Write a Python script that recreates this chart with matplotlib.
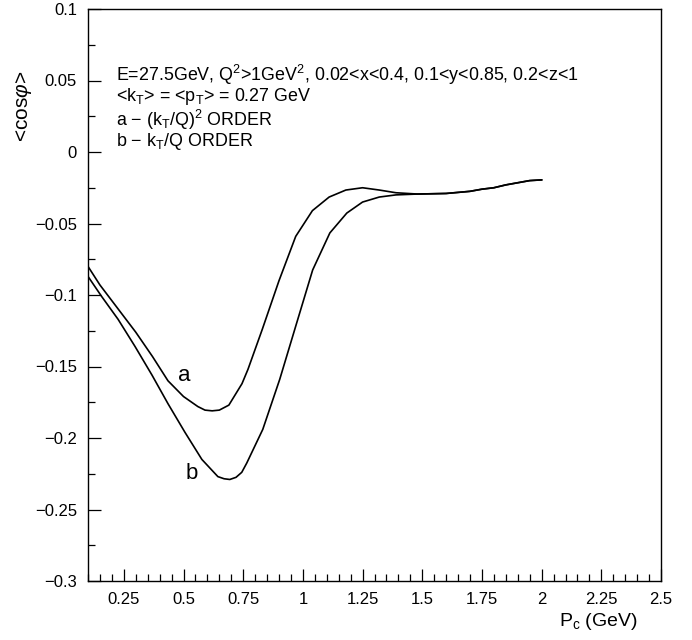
import matplotlib
matplotlib.use("Agg")
import matplotlib.pyplot as plt
from matplotlib.ticker import MultipleLocator, FixedLocator, FixedFormatter

plt.rcParams['font.family'] = ['Liberation Sans', 'DejaVu Sans']
plt.rcParams['mathtext.fontset'] = 'custom'
plt.rcParams['mathtext.rm'] = 'Liberation Sans'
plt.rcParams['mathtext.it'] = 'Liberation Sans:italic'

# curve a: (kT/Q)^2 order
pc_a = [0.1, 0.15, 0.2, 0.3, 0.37, 0.435, 0.5, 0.56, 0.59, 0.62, 0.65, 0.69, 0.745,
        0.77, 0.83, 0.9, 0.97, 1.04, 1.11, 1.18, 1.25, 1.32, 1.39, 1.48,
        1.6, 1.7, 1.75, 1.8, 1.85, 1.9, 1.95, 2.0]
cos_a = [-0.080, -0.093, -0.104, -0.126, -0.143, -0.160, -0.171, -0.178, -0.1805, -0.181,
         -0.1805, -0.177, -0.162, -0.152, -0.124, -0.090, -0.059, -0.041, -0.0315, -0.0266,
         -0.025, -0.0266, -0.0285, -0.0294, -0.029, -0.0275, -0.026, -0.025, -0.023,
         -0.0215, -0.020, -0.0195]

# curve b: kT/Q order
pc_b = [0.1, 0.157, 0.226, 0.297, 0.368, 0.435, 0.506, 0.577, 0.644, 0.67, 0.694, 0.72,
        0.744, 0.765, 0.832, 0.903, 0.974, 1.041, 1.113, 1.184, 1.25, 1.32, 1.39, 1.48,
        1.6, 1.7, 1.75, 1.8, 1.85, 1.9, 1.95, 2.0]
cos_b = [-0.087, -0.101, -0.117, -0.136, -0.156, -0.176, -0.196, -0.215, -0.227, -0.2285,
         -0.229, -0.2275, -0.224, -0.2175, -0.194, -0.159, -0.1196, -0.0825, -0.0566,
         -0.0427, -0.035, -0.0315, -0.030, -0.0294, -0.029, -0.0275, -0.026, -0.025,
         -0.023, -0.0215, -0.020, -0.0195]

xticks = [0.25, 0.5, 0.75, 1.0, 1.25, 1.5, 1.75, 2.0, 2.25, 2.5]
xtick_labels = ['0.25', '0.5', '0.75', '1', '1.25', '1.5', '1.75', '2', '2.25', '2.5']
yticks = [0.1, 0.05, 0.0, -0.05, -0.1, -0.15, -0.2, -0.25, -0.3]
ytick_labels = ['0.1', '0.05', '0', '\u22120.05', '\u22120.1', '\u22120.15',
                '\u22120.2', '\u22120.25', '\u22120.3']

info_lines = [
    r'E=27.5GeV, Q$^2$>1GeV$^2$, 0.02<x<0.4, 0.1<y<0.85, 0.2<z<1',
    r'<k$_\mathrm{T}$> = <p$_\mathrm{T}$> = 0.27 GeV',
    r'a $-$ (k$_\mathrm{T}$/Q)$^2$ ORDER',
    r'b $-$ k$_\mathrm{T}$/Q ORDER',
]
info_y = [0.0538, 0.0385, 0.0224, 0.0070]

fig = plt.figure(figsize=(6.92, 6.4), dpi=100)
ax = fig.add_axes([88 / 692, 1 - 581 / 640, (661 - 88) / 692, (581 - 9) / 640])

ax.plot(pc_a, cos_a, color='black', lw=1.2)
ax.plot(pc_b, cos_b, color='black', lw=1.2)

ax.text(0.505, -0.156, 'a', fontsize=16, ha='center', va='center')
ax.text(0.535, -0.2245, 'b', fontsize=16, ha='center', va='center')

for txt, yy in zip(info_lines, info_y):
    ax.text(0.218, yy, txt, fontsize=12.9, ha='left', va='center')

ax.set_xlim(0.1, 2.5)
ax.set_ylim(-0.3, 0.1)

ax.xaxis.set_major_locator(FixedLocator(xticks))
ax.xaxis.set_major_formatter(FixedFormatter(xtick_labels))
ax.xaxis.set_minor_locator(MultipleLocator(0.05))
ax.yaxis.set_major_locator(FixedLocator(yticks))
ax.yaxis.set_major_formatter(FixedFormatter(ytick_labels))
ax.yaxis.set_minor_locator(MultipleLocator(0.025))

ax.tick_params(which='both', direction='in', top=False, right=False, labelsize=12)
ax.tick_params(which='major', length=9, width=0.9, pad=8)
ax.tick_params(which='minor', length=5, width=0.9)
for sp in ax.spines.values():
    sp.set_linewidth(1.0)

fig.text(24 / 692, 1 - 106 / 640, r'<cos$\varphi$>', rotation=90, fontsize=15,
         ha='center', va='center')
fig.text(598 / 692, 1 - 622 / 640, r'P$_\mathrm{c}$ (GeV)', fontsize=14,
         ha='center', va='center')

fig.savefig('out.png', dpi=100)
